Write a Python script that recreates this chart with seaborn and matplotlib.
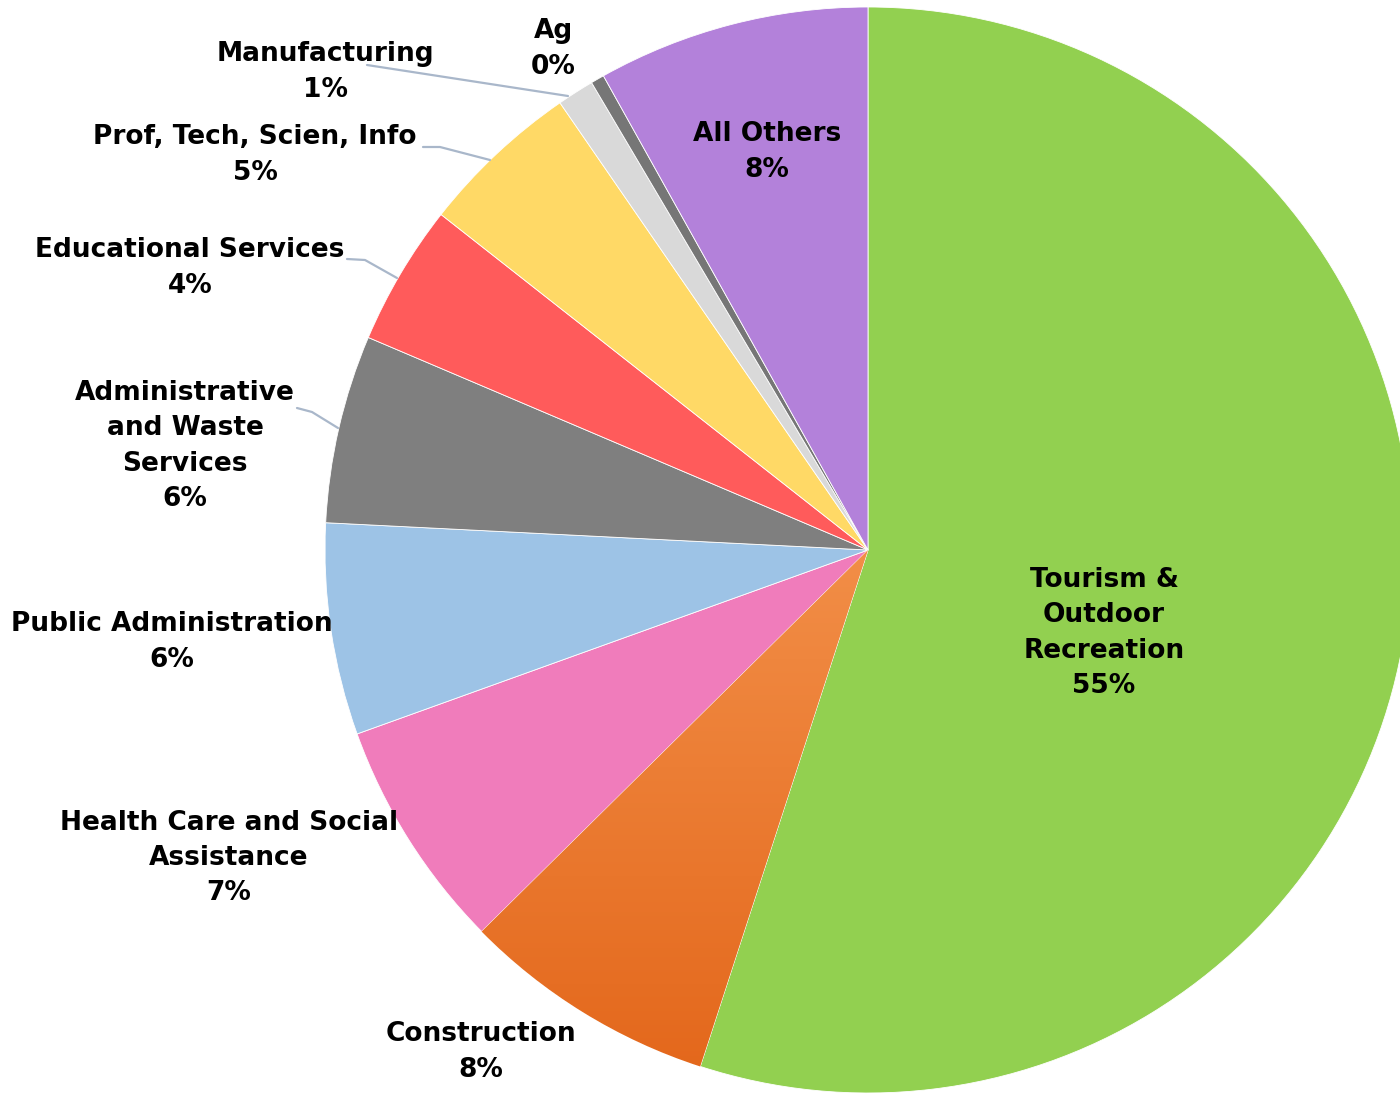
import numpy as np
import matplotlib
matplotlib.use("Agg")
import matplotlib.pyplot as plt
from matplotlib.colors import LinearSegmentedColormap
import seaborn as sns

# Share of employment by sector (percent), clockwise from 12 o'clock
sectors = [
    "Tourism &\nOutdoor\nRecreation",
    "Construction",
    "Health Care and Social\nAssistance",
    "Public Administration",
    "Administrative\nand Waste\nServices",
    "Educational Services",
    "Prof, Tech, Scien, Info",
    "Manufacturing",
    "Ag",
    "All Others",
]
shares = [55.0, 7.6, 6.9, 6.3, 5.6, 4.2, 4.8, 1.1, 0.4, 8.1]
colors = ["#92D050", "#EE7B30", "#F07CBB", "#9DC3E6", "#7F7F7F",
          "#FF5B5B", "#FFD966", "#D9D9D9", "#767676", "#B381DA"]

sns.set_theme(style="white")
plt.rcParams["font.family"] = ["DejaVu Sans"]

W, H = 1400, 1094
CX, CY, R = 868, 550, 543   # pie centre and radius in pixels


def px(x, y):
    """Pixel position -> data coordinates (unit radius pie at origin)."""
    return (x - CX) / R, (CY - y) / R


fig = plt.figure(figsize=(W / 100, H / 100), dpi=100)
ax = fig.add_axes([0, 0, 1, 1])

wedges, _ = ax.pie(shares, colors=colors, startangle=90, counterclock=False,
                   radius=1.0, wedgeprops=dict(edgecolor="white", linewidth=0.6))

# Vertical shading on the construction wedge
cons = wedges[1]
grad = LinearSegmentedColormap.from_list("cons", ["#E3661A", "#F28E47"])
img = ax.imshow(np.linspace(0, 1, 256).reshape(-1, 1), cmap=grad, aspect="auto",
                extent=(-1.0, 0.2, -1.0, 0.0), origin="lower", zorder=cons.get_zorder() + 0.1)
img.set_clip_path(cons)

ax.set_xlim(-CX / R, (W - CX) / R)
ax.set_ylim(-(H - CY) / R, CY / R)
ax.set_aspect("auto")
ax.axis("off")

# Label anchors (pixel centres) for each sector
label_pos = [(1104, 633), (481, 1052), (229, 858), (172, 642), (185, 446),
             (190, 268), (255, 155), (325, 72), (553, 49), (767, 152)]

for name, v, (lx, ly) in zip(sectors, shares, label_pos):
    x, y = px(lx, ly)
    ax.text(x, y, f"{name}\n{v:.0f}%", ha="center", va="center",
            multialignment="center", fontsize=19, fontweight="bold",
            color="black", linespacing=1.47, zorder=5)

# Leader lines for the small outside labels
leaders = [
    [(367, 65), (568, 96)],
    [(423, 147), (440, 147), (490, 160)],
    [(347, 259), (365, 260), (397, 278)],
    [(297, 408), (312, 412), (338, 428)],
]
for pts in leaders:
    xs, ys = zip(*[px(a, b) for a, b in pts])
    ax.plot(xs, ys, color="#A9B7CA", lw=1.6, zorder=4)

fig.savefig("out.png", dpi=100)
